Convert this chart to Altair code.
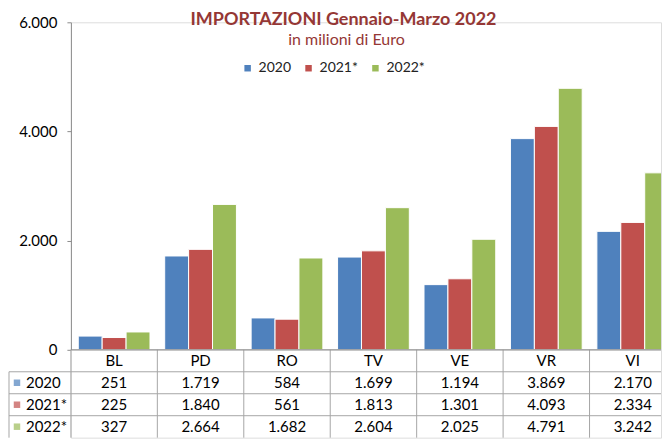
import altair as alt
import pandas as pd

categories = ["BL", "PD", "RO", "TV", "VE", "VR", "VI"]
series = ["2020", "2021*", "2022*"]
v2020 = [251, 1719, 584, 1699, 1194, 3869, 2170]
v2021 = [225, 1840, 561, 1813, 1301, 4093, 2334]
v2022 = [327, 2664, 1682, 2604, 2025, 4791, 3242]
colors = ["#4F81BD", "#C0504D", "#9BBB59"]
y_ticks = [0, 2000, 4000, 6000]
title_text = "IMPORTAZIONI  Gennaio-Marzo  2022"
subtitle_text = "in milioni di Euro"

records = []
for s, vals in zip(series, [v2020, v2021, v2022]):
    for c, v in zip(categories, vals):
        records.append({"cat": c, "series": s, "value": v})
df = pd.DataFrame(records)

FONT = "Lato"
W = 591
RANGE = 606
H_BAR = 328
H_TAB = 88
GRAY = "#8C8C8C"
LINE = "#A6A6A6"
TITLE_COLOR = "#953735"
num_fmt = "replace(format(datum.value, ','), ',', '.')"

color_enc = alt.Color(
    "series:N",
    scale=alt.Scale(domain=series, range=colors),
    legend=alt.Legend(
        orient="none", legendX=170, legendY=39, direction="horizontal", columns=3,
        gridAlign="none", title=None, symbolType="square", symbolSize=42, symbolStrokeWidth=0,
        labelFont=FONT, labelFontSize=14, labelColor="#222222",
        columnPadding=10, labelOffset=4, padding=0,
    ),
)

bars = alt.Chart(df).mark_bar(stroke="white", strokeWidth=1, clip=True).encode(
    x=alt.X("cat:N", sort=categories,
            scale=alt.Scale(domain=categories, range=[0, RANGE], paddingInner=0.17, paddingOuter=0.085),
            axis=None),
    xOffset=alt.XOffset("series:N", sort=series,
                        scale=alt.Scale(domain=series, paddingInner=0, paddingOuter=0)),
    y=alt.Y("value:Q", scale=alt.Scale(domain=[0, 6000], nice=False),
            axis=alt.Axis(values=y_ticks, labelExpr=num_fmt, title=None, grid=False,
                          tickSize=4, labelPadding=10, domainColor=GRAY, tickColor=GRAY,
                          labelFont=FONT, labelFontSize=15, labelColor="black")),
    color=color_enc,
)

title = alt.Chart(pd.DataFrame({"t": [title_text]})).mark_text(
    font=FONT, fontSize=18, fontWeight="bold", color=TITLE_COLOR, baseline="middle", align="center"
).encode(x=alt.value(273), y=alt.value(-2), text="t:N")

subtitle = alt.Chart(pd.DataFrame({"t": [subtitle_text]})).mark_text(
    font=FONT, fontSize=16, color=TITLE_COLOR, baseline="middle", align="center"
).encode(x=alt.value(276), y=alt.value(18), text="t:N")

bar_chart = alt.layer(bars, title, subtitle).properties(width=W, height=H_BAR)

# ---- data table ----
row_domain = ["hdr"] + series
xs = alt.Scale(domain=categories, range=[0, RANGE], paddingInner=0, paddingOuter=0)
ys = alt.Scale(domain=row_domain, paddingInner=0, paddingOuter=0)
Xt = alt.X("cat:N", sort=categories, scale=xs, axis=None)
Yt = alt.Y("row:N", sort=row_domain, scale=ys, axis=None)

cat_df = pd.DataFrame({"cat": categories, "row": ["hdr"] * len(categories)})
row_df = pd.DataFrame({"row": series, "series": series})

vlines = alt.Chart(cat_df).mark_rule(color=LINE, strokeWidth=1).encode(
    x=alt.X("cat:N", sort=categories, scale=xs, axis=None, bandPosition=0),
    y=alt.value(0), y2=alt.value(H_TAB))

hlines = alt.Chart(row_df).mark_rule(color=LINE, strokeWidth=1).encode(
    y=alt.Y("row:N", sort=row_domain, scale=ys, axis=None, bandPosition=0),
    x=alt.value(-62), x2=alt.value(W))

left_line = alt.Chart(row_df.head(1)).mark_rule(color=LINE, strokeWidth=1).encode(
    y=alt.Y("row:N", sort=row_domain, scale=ys, axis=None, bandPosition=0),
    y2=alt.value(H_TAB), x=alt.value(-62))

top_line = alt.Chart(row_df.head(1)).mark_rule(color=GRAY, strokeWidth=1).encode(
    y=alt.value(0), x=alt.value(0), x2=alt.value(W))

header = alt.Chart(cat_df).mark_text(font=FONT, fontSize=15, color="black").encode(
    x=Xt, y=Yt, text="cat:N")

values = alt.Chart(df).transform_calculate(row="datum.series", label=num_fmt).mark_text(
    font=FONT, fontSize=15, color="black").encode(x=Xt, y=Yt, text="label:N")

squares = alt.Chart(row_df).mark_square(size=42, strokeWidth=0).encode(
    x=alt.value(-54), y=Yt,
    color=alt.Color("series:N", scale=alt.Scale(domain=series, range=colors), legend=None))

row_labels = alt.Chart(row_df).mark_text(font=FONT, fontSize=15, color="black", align="left").encode(
    x=alt.value(-45), y=Yt, text="series:N")

table = alt.layer(vlines, hlines, left_line, top_line, header, values, squares, row_labels).properties(
    width=W, height=H_TAB)

chart = alt.vconcat(bar_chart, table, spacing=0, bounds="flush").resolve_scale(
    color="independent", x="independent", y="independent"
).properties(padding={"left": 0, "top": 2, "right": 0, "bottom": 0}).configure_view(
    stroke="transparent"
).configure(background="white")

chart.save("out.html", embed_options={"renderer": "svg", "actions": False})
